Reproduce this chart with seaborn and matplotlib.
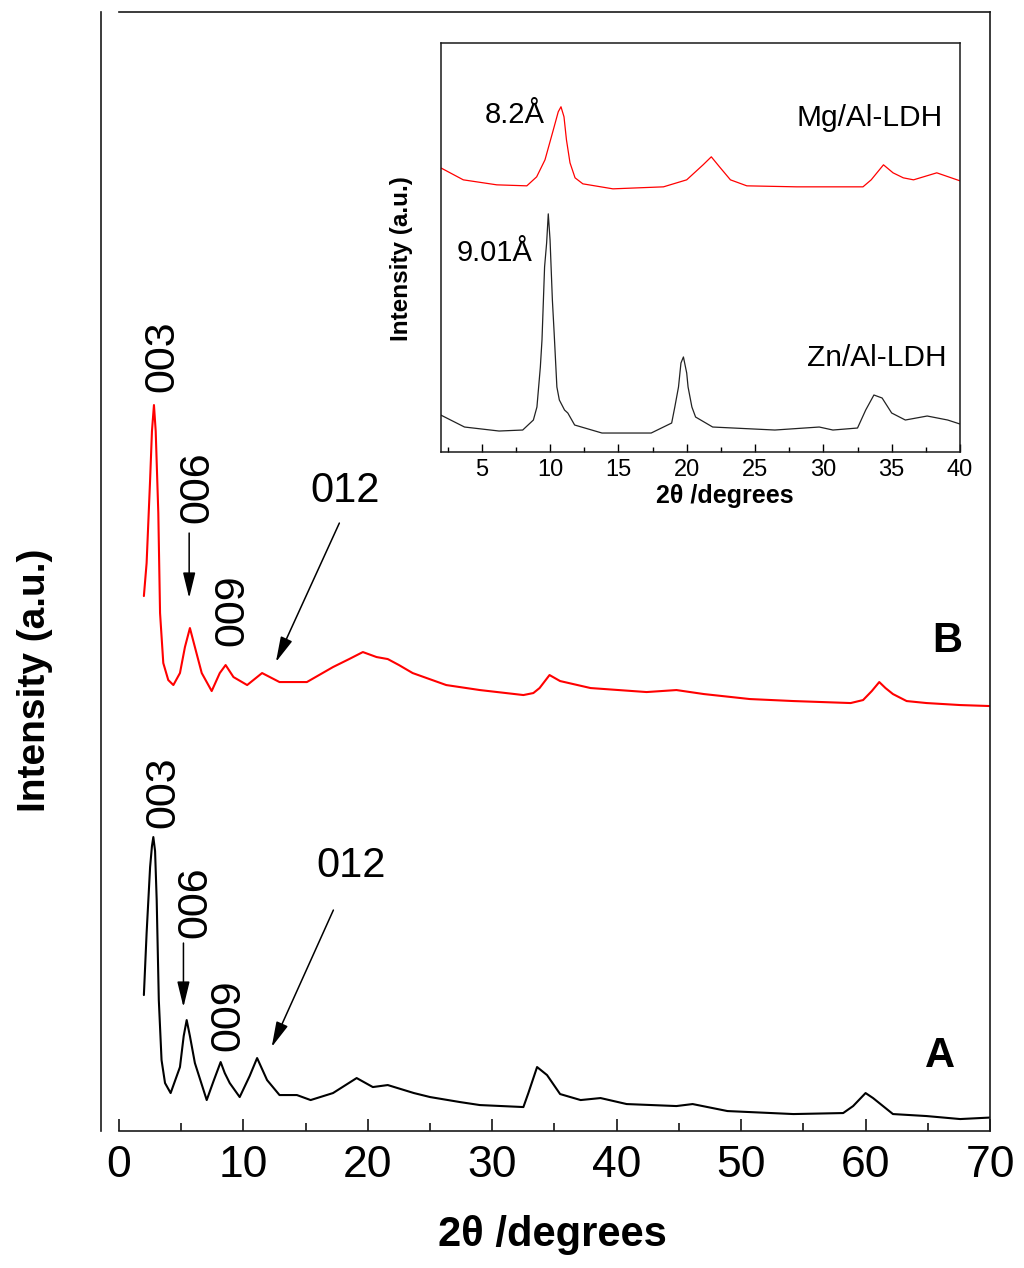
import matplotlib
matplotlib.use("Agg")
import matplotlib.pyplot as plt
import seaborn as sns
import pandas as pd
from matplotlib.ticker import MultipleLocator

# main pattern B (red, Mg/Al sample) - 2theta / intensity (a.u.)
b_two_theta = [2.0, 2.22, 2.5, 2.65, 2.81, 2.95, 3.16, 3.3, 3.56, 3.96, 4.37, 4.9, 5.3, 5.7,
               6.1, 6.65, 7.45, 8.1, 8.57, 9.2, 10.3, 11.5, 12.9, 15.1, 17.2, 18.5, 19.6,
               20.7, 21.6, 22.5, 23.6, 26.3, 29.0, 32.5, 33.3, 33.8, 34.6, 35.45, 37.9,
               42.4, 44.8, 47.0, 50.7, 54.2, 58.8, 59.8, 60.5, 61.1, 61.6, 62.2, 63.3,
               64.9, 67.6, 70.0]
b_intensity = [535, 568, 651, 700, 726, 700, 618, 518, 468, 451, 446, 458, 484, 503,
               484, 458, 440, 458, 466, 454, 446, 458, 449, 449, 464, 472, 479,
               474, 472, 466, 458, 446, 441, 436, 438, 443, 456, 450, 443,
               439, 441, 437, 432, 430, 428, 431, 440, 449, 443, 437, 430,
               428, 426, 425]

# main pattern A (black, Zn/Al sample)
a_two_theta = [2.0, 2.22, 2.5, 2.65, 2.76, 2.9, 3.03, 3.2, 3.42, 3.7, 4.15, 4.9, 5.2, 5.44,
               5.7, 6.1, 7.05, 7.6, 8.17, 8.5, 8.9, 9.7, 10.5, 11.1, 11.5, 11.9, 12.9,
               14.3, 15.4, 17.2, 19.1, 20.4, 21.6, 23.7, 25.0, 27.4, 29.0, 32.5, 32.9,
               33.6, 34.4, 35.45, 37.1, 38.7, 40.8, 44.8, 46.1, 48.9, 54.2, 58.2, 59.0,
               60.0, 60.6, 61.2, 62.2, 64.9, 67.6, 70.0]
a_intensity = [136, 198, 264, 285, 294, 280, 231, 131, 71, 48, 38, 64, 95, 111,
               95, 68, 31, 50, 69, 58, 48, 34, 55, 73, 62, 51, 36,
               36, 31, 38, 53, 44, 46, 38, 34, 29, 26, 24, 38,
               64, 56, 37, 31, 33, 27, 25, 27, 20, 17, 18, 25,
               38, 33, 27, 17, 15, 12, 13.5]

# inset: Mg/Al-LDH (red) and Zn/Al-LDH (black)
mg_two_theta = [2.0, 3.65, 6.1, 8.3, 9.02, 9.63, 10.24, 10.6, 10.8, 11.02, 11.2, 11.46,
                11.83, 12.4, 14.6, 18.3, 20.0, 21.2, 21.8, 22.4, 23.2, 24.4, 28.05, 32.9,
                33.5, 34.4, 35.1, 35.85, 36.6, 38.3, 40.0]
mg_intensity = [284, 272, 267, 266, 275, 292, 322, 340, 345, 335, 312, 289,
                274, 268, 263, 265, 272, 287, 295, 285, 272, 266, 265, 265,
                272, 287, 279, 274, 272, 279, 271]

zn_two_theta = [2.0, 3.74, 6.27, 8.0, 8.78, 9.04, 9.29, 9.41, 9.6, 9.75, 9.87, 10.0, 10.17,
                10.3, 10.5, 10.68, 11.06, 11.3, 11.8, 13.8, 17.4, 18.9, 19.13, 19.4, 19.58,
                19.76, 20.0, 20.1, 20.38, 20.65, 21.9, 26.45, 29.7, 30.7, 32.5, 33.1, 33.7,
                34.3, 35.0, 36.0, 37.6, 39.1, 40.0]
zn_intensity = [37, 25, 21, 22, 32, 45, 85, 112, 185, 209, 238, 212, 152,
                119, 65, 52, 42, 39, 27, 19, 19, 29, 45, 65, 89,
                95, 79, 65, 45, 35, 25, 22, 25, 22, 24, 42, 57,
                54, 39, 32, 36, 32, 28]

sns.set_theme(style="white")
plt.rcParams["font.family"] = ["Liberation Sans", "DejaVu Sans"]
plt.rcParams["axes.edgecolor"] = "#1a1a1a"
plt.rcParams["text.color"] = "black"
plt.rcParams["axes.labelcolor"] = "black"
plt.rcParams["xtick.color"] = "black"

fig = plt.figure(figsize=(10.24, 12.68), dpi=100)
ax = fig.add_axes([0.1162, 0.1080, 0.8506, 0.8825])

df_b = pd.DataFrame({"x": b_two_theta, "y": b_intensity})
df_a = pd.DataFrame({"x": a_two_theta, "y": a_intensity})
sns.lineplot(data=df_b, x="x", y="y", ax=ax, color="#ff0000", lw=1.5, estimator=None)
sns.lineplot(data=df_a, x="x", y="y", ax=ax, color="black", lw=1.5, estimator=None)

ax.set_xlim(0, 70)
ax.set_ylim(0, 1119)
ax.set_yticks([])
ax.xaxis.set_major_locator(MultipleLocator(10))
ax.xaxis.set_minor_locator(MultipleLocator(5))
ax.tick_params(axis="x", which="major", direction="in", length=9, width=1.1,
               labelsize=32, pad=10, bottom=True)
ax.tick_params(axis="x", which="minor", direction="in", length=5.5, width=1.1, bottom=True)
for s in ax.spines.values():
    s.set_linewidth(1.2)
ax.spines["left"].set_position(("outward", 13))

ax.set_xlabel("2θ /degrees", fontsize=30, fontweight="bold", va="center")
ax.xaxis.set_label_coords(0.498, -0.093)
ax.set_ylabel("Intensity (a.u.)", fontsize=28, fontweight="bold", va="center")
ax.yaxis.set_label_coords(-0.0964, 0.403)

# peak labels
lbl = dict(fontsize=31, rotation=90, ha="center", va="center")
ax.text(3.46, 775, "003", **lbl)
ax.text(6.31, 644, "006", **lbl)
ax.text(9.12, 521, "009", **lbl)
ax.text(18.16, 640, "012", fontsize=30, ha="center", va="center")
ax.text(3.54, 339, "003", **lbl)
ax.text(6.11, 229, "006", **lbl)
ax.text(8.76, 116, "009", **lbl)
ax.text(18.64, 265, "012", fontsize=30, ha="center", va="center")
ax.text(66.54, 490, "B", fontsize=30, fontweight="bold", ha="center", va="center")
ax.text(65.96, 75, "A", fontsize=30, fontweight="bold", ha="center", va="center")

arw = dict(arrowstyle="-|>,head_length=0.78,head_width=0.19", color="black", lw=1.1,
           shrinkA=0, shrinkB=0, mutation_scale=20)
ax.annotate("", xy=(5.64, 533), xytext=(5.64, 598), arrowprops=arw)
ax.annotate("", xy=(12.61, 469), xytext=(17.71, 608), arrowprops=arw)
ax.annotate("", xy=(5.18, 124), xytext=(5.18, 188), arrowprops=arw)
ax.annotate("", xy=(12.27, 84), xytext=(17.23, 221), arrowprops=arw)

# inset
ins = fig.add_axes([0.4304, 0.6435, 0.5071, 0.3228])
df_mg = pd.DataFrame({"x": mg_two_theta, "y": mg_intensity})
df_zn = pd.DataFrame({"x": zn_two_theta, "y": zn_intensity})
sns.lineplot(data=df_mg, x="x", y="y", ax=ins, color="#ff0000", lw=0.9, estimator=None)
sns.lineplot(data=df_zn, x="x", y="y", ax=ins, color="#222222", lw=0.9, estimator=None)
ins.set_xlim(2, 40)
ins.set_ylim(0, 409)
ins.set_yticks([])
ins.xaxis.set_major_locator(MultipleLocator(5))
ins.xaxis.set_minor_locator(MultipleLocator(2.5))
ins.tick_params(axis="x", which="major", direction="in", length=5.8, width=1.0,
                labelsize=17, pad=5, bottom=True)
ins.tick_params(axis="x", which="minor", direction="in", length=3.6, width=1.0, bottom=True)
for s in ins.spines.values():
    s.set_linewidth(1.1)
ins.set_xlabel("2θ /degrees", fontsize=18, fontweight="bold", va="center")
ins.xaxis.set_label_coords(0.547, -0.108)
ins.set_ylabel("Intensity (a.u.)", fontsize=17.5, fontweight="bold", va="center")
ins.yaxis.set_label_coords(-0.0765, 0.4716)

ins.text(7.4, 329, "8.2Å", fontsize=21, ha="center", va="baseline")
ins.text(38.76, 326, "Mg/Al-LDH", fontsize=21.5, ha="right", va="baseline")
ins.text(5.97, 191, "9.01Å", fontsize=21, ha="center", va="baseline")
ins.text(39.05, 86, "Zn/Al-LDH", fontsize=21.5, ha="right", va="baseline")

fig.savefig("out.png", dpi=100)
